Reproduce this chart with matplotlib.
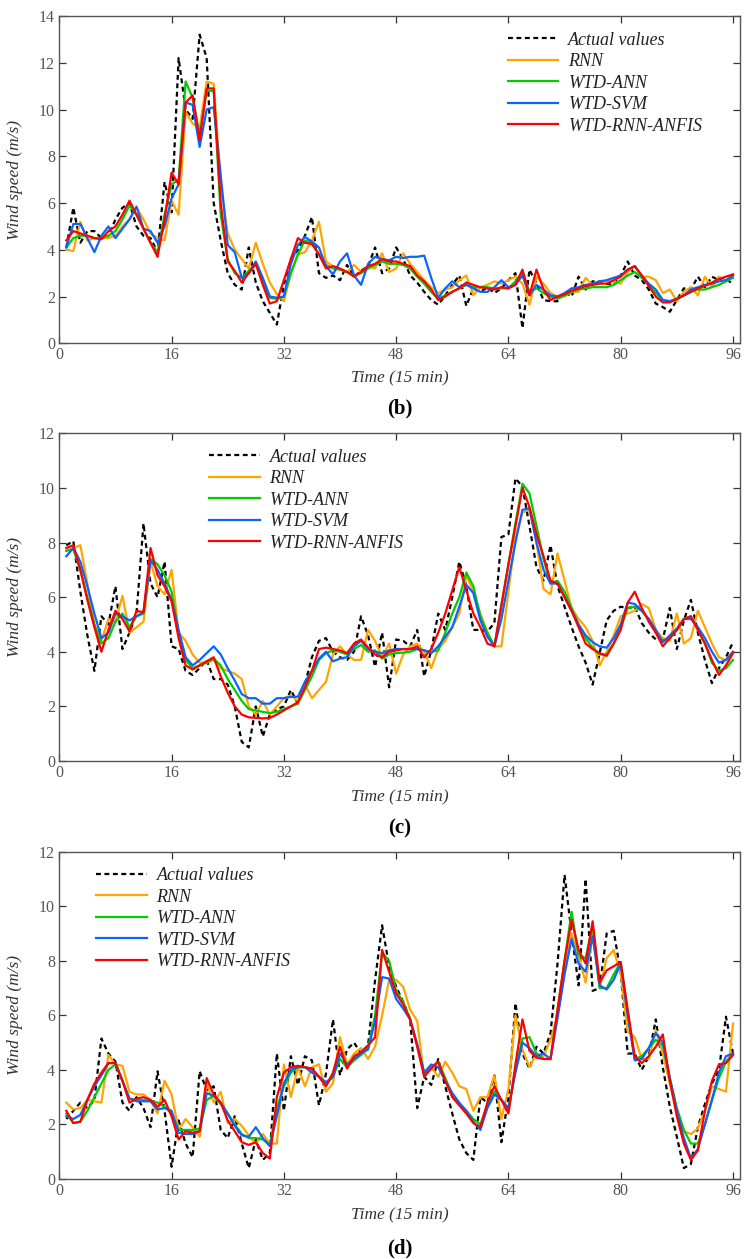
import numpy as np
import matplotlib.pyplot as plt
from matplotlib.lines import Line2D

plt.rcParams['font.family'] = ['Liberation Serif', 'DejaVu Serif']

# time steps (15 min), one day
t = np.arange(1, 97)

# ---- panel (b) ----
b_actual = [4.1, 5.8, 4.3, 4.8, 4.8, 4.5, 4.6, 5.3, 5.8, 6.0,
            5.0, 4.6, 4.5, 3.9, 6.9, 5.6, 12.2, 10.0, 9.6, 13.2,
            12.2, 6.0, 4.4, 3.0, 2.5, 2.3, 4.1, 2.6, 1.8, 1.3,
            0.8, 2.5, 3.6, 4.0, 4.6, 5.4, 3.0, 2.8, 2.9, 2.7,
            3.35, 2.85, 3.1, 3.3, 4.1, 3.0, 3.2, 4.1, 3.6, 2.9,
            2.6, 2.2, 1.85, 1.65, 2.05, 2.5, 2.9, 1.6, 2.35, 2.2,
            2.4, 2.15, 2.35, 2.7, 3.0, 0.65, 3.15, 2.55, 1.85, 1.8,
            1.8, 2.2, 2.0, 2.85, 2.3, 2.65, 2.65, 2.55, 2.5, 2.9,
            3.5, 2.9, 2.7, 2.3, 1.7, 1.55, 1.35, 1.85, 2.35, 2.3,
            2.85, 2.4, 2.85, 2.7, 2.8, 2.5]
b_rnn = [4.0, 3.95, 5.2, 4.4, 4.5, 4.5, 4.5, 4.6, 5.0, 5.3,
         5.8, 5.3, 4.7, 4.5, 4.4, 6.1, 5.5, 9.9, 9.4, 9.2,
         11.2, 11.1, 6.8, 4.7, 4.0, 3.6, 3.2, 4.3, 3.4, 2.6,
         2.1, 1.8, 3.0, 3.8, 3.9, 4.4, 5.2, 3.5, 3.3, 3.15,
         3.05, 3.35, 3.05, 3.3, 3.2, 3.85, 3.05, 3.2, 3.85, 3.4,
         3.05, 2.7, 2.4, 2.15, 2.3, 2.4, 2.7, 2.9, 2.05, 2.4,
         2.5, 2.65, 2.55, 2.7, 2.85, 2.55, 1.65, 2.85, 2.55, 2.15,
         2.0, 2.0, 2.2, 2.2, 2.8, 2.5, 2.65, 2.65, 2.65, 2.55,
         3.05, 3.3, 2.85, 2.85, 2.7, 2.15, 2.3, 1.8, 2.2, 2.4,
         2.05, 2.85, 2.4, 2.85, 2.65, 2.9]
b_ann = [4.1, 4.5, 4.6, 4.6, 4.5, 4.5, 4.6, 4.8, 5.3, 5.9,
         5.5, 4.9, 4.3, 3.9, 5.5, 6.8, 7.0, 11.2, 10.5, 8.9,
         10.8, 10.8, 5.5, 3.6, 3.0, 2.8, 3.1, 3.4, 2.6, 1.95,
         1.9, 2.0, 3.0, 3.8, 4.4, 4.3, 3.8, 3.35, 3.2, 3.15,
         3.05, 2.9, 3.0, 3.2, 3.35, 3.5, 3.4, 3.4, 3.35, 3.2,
         2.85, 2.55, 2.2, 1.9, 2.05, 2.2, 2.35, 2.5, 2.4, 2.4,
         2.4, 2.35, 2.35, 2.35, 2.65, 3.05, 2.2, 2.35, 2.15, 2.0,
         1.9, 2.05, 2.2, 2.3, 2.35, 2.4, 2.4, 2.4, 2.5, 2.7,
         2.9, 3.05, 2.8, 2.5, 2.15, 1.85, 1.8, 1.9, 2.05, 2.2,
         2.3, 2.3, 2.4, 2.5, 2.65, 2.8]
b_svm = [4.1, 5.1, 5.1, 4.5, 3.9, 4.6, 5.0, 4.5, 4.9, 5.3,
         5.85, 4.9, 4.8, 4.3, 5.0, 6.2, 6.8, 10.3, 10.2, 8.4,
         10.0, 10.1, 7.2, 4.2, 3.9, 2.8, 3.0, 3.5, 2.8, 2.0,
         1.95, 2.0, 3.4, 4.2, 4.55, 4.35, 4.1, 3.3, 2.95, 3.5,
         3.85, 2.9, 2.5, 3.4, 3.7, 3.6, 3.55, 3.7, 3.65, 3.7,
         3.7, 3.75, 2.8, 1.95, 2.35, 2.65, 2.4, 2.5, 2.35, 2.2,
         2.2, 2.4, 2.7, 2.4, 2.5, 2.9, 2.05, 2.5, 2.3, 2.05,
         2.0, 2.15, 2.35, 2.4, 2.5, 2.55, 2.65, 2.7, 2.8, 2.9,
         3.15, 3.3, 2.9, 2.55, 2.3, 1.85, 1.8, 1.9, 2.05, 2.3,
         2.4, 2.5, 2.55, 2.65, 2.7, 2.9]
b_anfis = [4.4, 4.8, 4.7, 4.6, 4.5, 4.45, 4.8, 5.0, 5.5, 6.1,
           5.5, 4.9, 4.3, 3.7, 5.3, 7.3, 6.8, 10.3, 10.6, 8.7,
           10.9, 10.9, 6.0, 3.5, 3.1, 2.6, 3.0, 3.4, 2.5, 1.7,
           1.8, 2.7, 3.6, 4.5, 4.3, 4.25, 3.8, 3.2, 3.3, 3.2,
           3.05, 2.85, 3.05, 3.3, 3.4, 3.6, 3.5, 3.5, 3.4, 3.3,
           2.9, 2.65, 2.3, 1.85, 2.0, 2.2, 2.35, 2.6, 2.5, 2.4,
           2.35, 2.3, 2.4, 2.35, 2.5, 3.15, 2.05, 3.15, 2.3, 1.85,
           2.0, 2.1, 2.25, 2.35, 2.45, 2.5, 2.55, 2.55, 2.7, 2.85,
           3.15, 3.3, 2.9, 2.45, 2.0, 1.75, 1.75, 1.9, 2.05, 2.2,
           2.35, 2.45, 2.6, 2.75, 2.85, 2.95]

# ---- panel (c) ----
c_actual = [7.9, 8.05, 6.2, 4.6, 3.3, 5.3, 5.0, 6.4, 4.1, 4.7,
            5.4, 8.7, 6.5, 6.0, 7.3, 4.2, 4.1, 3.3, 3.15, 3.4,
            3.7, 3.0, 3.0, 2.8, 2.0, 0.7, 0.5, 2.0, 0.9, 1.7,
            1.9, 2.0, 2.6, 2.1, 2.8, 3.8, 4.4, 4.5, 4.0, 3.8,
            3.7, 4.0, 5.3, 4.6, 3.45, 4.7, 2.7, 4.45, 4.4, 4.2,
            4.8, 3.1, 4.05, 5.4, 4.8, 6.0, 7.3, 6.4, 4.8, 4.8,
            4.75, 5.05, 8.2, 8.3, 10.35, 10.05, 8.6, 7.1, 6.6, 7.9,
            6.4, 5.65, 4.9, 4.2, 3.6, 2.8, 3.95, 5.15, 5.5, 5.65,
            5.6, 5.65, 5.05, 4.7, 4.45, 4.45, 5.6, 4.1, 5.15, 5.9,
            4.7, 3.7, 2.85, 3.4, 3.8, 4.35]
c_rnn = [7.7, 7.8, 7.9, 6.5, 5.0, 4.4, 5.2, 5.1, 6.05, 4.7,
         4.9, 5.1, 7.3, 6.4, 6.1, 7.0, 4.7, 4.4, 3.9, 3.6,
         3.6, 3.7, 3.4, 3.3, 3.2, 3.0, 2.0, 1.7, 2.2, 1.7,
         2.0, 2.3, 2.4, 2.2, 2.8, 2.3, 2.6, 2.9, 3.9, 4.2,
         3.9, 3.7, 3.7, 4.8, 4.4, 3.8, 4.3, 3.2, 3.9, 4.2,
         4.3, 4.0, 3.4, 4.1, 4.4, 4.9, 5.4, 6.8, 6.2, 5.4,
         4.7, 4.2, 4.2, 6.2, 8.2, 9.1, 9.2, 8.0, 6.3, 6.1,
         7.6, 6.6, 5.6, 5.2, 4.9, 4.4, 3.5, 4.0, 4.6, 5.3,
         5.4, 5.5, 5.75, 5.6, 4.8, 4.5, 4.4, 5.4, 4.3, 4.5,
         5.5, 4.9, 4.3, 3.8, 3.7, 4.0]
c_ann = [7.7, 7.75, 7.0, 6.0, 5.0, 4.3, 4.5, 5.1, 5.4, 4.9,
         5.3, 5.4, 7.4, 7.2, 6.8, 6.2, 4.7, 3.7, 3.4, 3.5,
         3.6, 3.75, 3.5, 3.0, 2.6, 2.2, 1.9, 1.85, 1.8, 1.75,
         1.8, 1.9, 2.0, 2.1, 2.6, 3.1, 3.7, 3.95, 4.05, 4.0,
         3.9, 4.1, 4.25, 4.0, 4.05, 3.75, 3.9, 3.95, 3.97, 4.0,
         4.1, 4.05, 4.0, 4.05, 4.7, 5.4, 6.0, 6.9, 6.4, 5.3,
         4.7, 4.2, 5.7, 7.2, 8.7, 10.15, 9.8, 8.6, 7.4, 6.5,
         6.6, 6.2, 5.6, 5.0, 4.5, 4.15, 3.9, 3.9, 4.3, 4.9,
         5.6, 5.65, 5.5, 5.2, 4.7, 4.4, 4.5, 4.8, 5.2, 5.3,
         4.8, 4.3, 3.6, 3.3, 3.4, 3.7]
c_svm = [7.5, 7.8, 7.3, 6.4, 5.4, 4.5, 4.7, 5.4, 5.3, 5.15,
         5.3, 5.45, 7.35, 7.0, 6.5, 5.9, 4.8, 3.8, 3.5, 3.7,
         3.95, 4.2, 3.9, 3.4, 2.95, 2.45, 2.3, 2.3, 2.1, 2.1,
         2.3, 2.3, 2.35, 2.35, 2.9, 3.3, 3.75, 4.0, 3.65, 3.75,
         3.8, 4.2, 4.4, 4.1, 4.0, 3.95, 4.05, 4.1, 4.1, 4.1,
         4.1, 4.05, 3.95, 4.2, 4.55, 4.9, 5.65, 6.45, 6.15, 5.15,
         4.55, 4.2, 5.2, 6.6, 8.0, 9.2, 9.25, 8.0, 7.0, 6.5,
         6.5, 6.0, 5.5, 5.0, 4.6, 4.35, 4.2, 4.15, 4.5, 5.0,
         5.8, 5.75, 5.5, 5.2, 4.8, 4.35, 4.6, 4.85, 5.2, 5.2,
         4.9, 4.5, 4.0, 3.6, 3.7, 4.0]
c_anfis = [7.8, 7.9, 7.0, 5.9, 4.9, 4.0, 4.8, 5.5, 5.2, 4.75,
           5.5, 5.45, 7.8, 6.8, 6.4, 5.85, 4.5, 3.5, 3.35, 3.5,
           3.65, 3.8, 3.1, 2.5, 2.0, 1.7, 1.6, 1.58, 1.56, 1.58,
           1.7, 1.85, 2.0, 2.15, 2.7, 3.3, 4.1, 4.15, 4.1, 4.05,
           3.95, 4.3, 4.45, 4.15, 3.9, 3.8, 4.0, 4.05, 4.1, 4.1,
           4.2, 3.8, 4.1, 4.7, 5.4, 6.25, 7.1, 6.25, 5.4, 4.9,
           4.3, 4.2, 5.7, 7.2, 8.6, 10.0, 9.3, 8.3, 7.5, 6.6,
           6.5, 6.0, 5.5, 4.9, 4.3, 4.1, 3.95, 3.85, 4.3, 4.8,
           5.8, 6.2, 5.6, 5.1, 4.7, 4.2, 4.5, 4.8, 5.2, 5.3,
           4.8, 4.3, 3.7, 3.15, 3.5, 3.95]

# ---- panel (d) ----
d_actual = [2.2, 2.5, 2.8, 2.6, 2.9, 5.15, 4.6, 4.3, 2.8, 2.5,
            3.0, 2.6, 1.9, 3.95, 2.5, 0.45, 2.15, 1.3, 0.8, 3.95,
            3.25, 3.4, 1.8, 1.5, 2.3, 1.3, 0.4, 1.45, 0.7, 0.95,
            4.6, 2.5, 4.5, 3.45, 4.5, 4.35, 2.7, 3.85, 5.85, 3.8,
            4.75, 5.0, 4.6, 4.9, 7.3, 9.3, 7.8, 7.05, 6.5, 5.85,
            2.6, 3.75, 3.45, 4.4, 3.4, 2.4, 1.45, 0.95, 0.7, 3.0,
            2.8, 3.8, 1.35, 3.0, 6.45, 4.6, 4.05, 4.85, 4.6, 5.35,
            7.9, 11.15, 9.0, 7.1, 11.0, 6.9, 7.0, 9.0, 9.1, 7.55,
            4.6, 4.6, 4.0, 4.5, 5.85, 4.1, 2.65, 1.55, 0.4, 0.55,
            1.9, 2.75, 3.5, 4.0, 5.95, 4.6]
d_rnn = [2.8, 2.55, 2.6, 2.9, 2.85, 2.8, 4.55, 4.2, 4.15, 3.2,
         3.1, 3.1, 2.9, 2.4, 3.6, 3.1, 1.8, 2.2, 1.9, 1.55,
         3.5, 2.8, 3.2, 2.05, 2.2, 1.95, 1.6, 1.3, 1.65, 1.3,
         1.3, 4.2, 3.0, 4.1, 3.4, 4.1, 4.2, 3.2, 3.5, 5.2,
         4.2, 4.6, 4.8, 4.4, 4.85, 6.0, 7.3, 7.3, 7.05, 6.2,
         5.8, 3.75, 4.1, 3.75, 4.3, 3.9, 3.4, 3.3, 2.5, 3.0,
         3.0, 3.8, 2.2, 3.3, 6.0, 4.75, 4.1, 4.6, 4.5, 5.1,
         6.0, 7.6, 9.0, 8.2, 7.2, 9.0, 7.0, 8.1, 8.4, 7.5,
         5.4, 5.2, 4.4, 4.4, 5.45, 4.6, 3.5, 2.5, 1.75, 1.65,
         1.85, 2.5, 3.4, 3.3, 3.2, 5.7]
d_ann = [2.4, 2.05, 2.1, 2.5, 3.0, 3.5, 4.0, 4.2, 3.6, 2.95,
         2.9, 2.9, 2.85, 2.8, 2.65, 2.4, 1.8, 1.8, 1.8, 1.85,
         2.9, 3.05, 2.75, 2.4, 2.0, 1.65, 1.5, 1.5, 1.45, 1.25,
         2.6, 3.4, 3.9, 4.1, 4.1, 4.0, 3.75, 3.45, 3.75, 4.4,
         4.1, 4.35, 4.55, 4.8, 6.0, 8.3, 8.0, 6.9, 6.5, 5.85,
         4.9, 3.85, 4.1, 4.3, 3.7, 3.1, 2.75, 2.5, 2.2, 2.0,
         2.7, 3.2, 2.9, 2.5, 4.0, 5.15, 5.2, 4.6, 4.4, 4.4,
         6.2, 8.0, 9.8, 8.2, 8.1, 9.3, 7.0, 7.0, 7.5, 7.95,
         6.1, 4.4, 4.5, 4.8, 5.1, 4.9, 3.7, 2.6, 1.8, 1.3,
         1.3, 2.0, 2.9, 3.7, 4.3, 4.6]
d_svm = [2.3, 2.2, 2.35, 2.9, 3.4, 3.8, 4.25, 4.25, 3.6, 2.95,
         2.85, 2.85, 2.85, 2.55, 2.6, 2.5, 1.7, 1.65, 1.65, 1.75,
         3.15, 3.05, 2.8, 2.4, 1.95, 1.6, 1.55, 1.9, 1.5, 1.2,
         2.3, 3.5, 4.0, 4.1, 4.1, 3.9, 3.75, 3.55, 3.75, 4.6,
         4.2, 4.4, 4.6, 4.75, 5.8, 7.4, 7.35, 6.6, 6.25, 5.85,
         4.95, 3.9, 4.2, 4.1, 3.6, 3.15, 2.8, 2.5, 2.1, 1.8,
         2.6, 3.1, 2.9, 2.6, 3.9, 5.0, 4.8, 4.5, 4.6, 4.4,
         5.9, 7.5, 8.8, 7.9, 7.6, 8.9, 7.1, 6.95, 7.3, 7.9,
         6.0, 4.35, 4.4, 4.8, 5.35, 5.0, 3.7, 2.5, 1.5, 0.75,
         1.1, 2.0, 2.9, 3.9, 4.5, 4.6]
d_anfis = [2.5, 2.05, 2.1, 2.9, 3.5, 3.9, 4.25, 4.25, 3.6, 2.8,
           2.95, 3.0, 2.9, 2.65, 2.9, 2.3, 1.45, 1.75, 1.7, 1.75,
           3.7, 3.1, 2.8, 2.15, 1.75, 1.35, 1.25, 1.35, 0.95, 0.75,
           3.0, 3.9, 4.1, 4.15, 4.1, 4.05, 3.75, 3.4, 3.9, 4.85,
           4.05, 4.5, 4.65, 4.9, 5.2, 8.4, 7.6, 6.8, 6.4, 5.85,
           4.85, 3.75, 4.05, 4.3, 3.6, 3.0, 2.7, 2.4, 2.05, 1.9,
           2.8, 3.4, 2.9, 2.4, 4.2, 5.85, 4.7, 4.45, 4.4, 4.4,
           6.2, 8.0, 9.5, 8.4, 7.9, 9.45, 7.2, 7.65, 7.8, 7.95,
           6.2, 4.5, 4.25, 4.5, 4.85, 5.3, 3.6, 2.3, 1.3, 0.7,
           1.05, 2.5, 3.6, 4.2, 4.25, 4.55]

names = ['Actual values', 'RNN', 'WTD-ANN', 'WTD-SVM', 'WTD-RNN-ANFIS']
colors = ['black', '#ffa500', '#00cc00', '#0a64ff', '#ff0000']

panels = [
    ('(b)', [b_actual, b_rnn, b_ann, b_svm, b_anfis], 14, (0.659, 0.952)),
    ('(c)', [c_actual, c_rnn, c_ann, c_svm, c_anfis], 12, (0.220, 0.953)),
    ('(d)', [d_actual, d_rnn, d_ann, d_svm, d_anfis], 12, (0.054, 0.953)),
]

W, H = 746, 1259
fig = plt.figure(figsize=(W / 100, H / 100), dpi=100)

# axes boxes in pixels: (top, bottom)
boxes = [(16, 343.3), (433.3, 761), (851.7, 1179)]
xlab_y = [378, 797, 1215]
tag_y = [408, 828, 1248]
left, right = 59.3, 740

gray = '#555555'
for (tag, series, ymax, leg_xy), (top, bot), yl, yt in zip(panels, boxes, xlab_y, tag_y):
    ax = fig.add_axes([left / W, 1 - bot / H, (right - left) / W, (bot - top) / H])
    for k, (vals, c) in enumerate(zip(series, colors)):
        if k == 0:
            ax.plot(t, vals, color=c, lw=1.6, ls=(0, (2.2, 1.6)), label=names[k], zorder=2)
        else:
            ax.plot(t, vals, color=c, lw=1.6, label=names[k], zorder=2 + k)
    ax.set_xlim(0, 97)
    ax.set_ylim(0, ymax)
    ax.set_xticks(np.arange(0, 97, 16))
    ax.set_yticks(np.arange(0, ymax + 1, 2))
    ax.tick_params(direction='in', top=True, right=True, length=5, width=0.9,
                   colors='#333333', labelcolor=gray, labelsize=11.5, pad=3)
    for s in ax.spines.values():
        s.set_color('#555555')
        s.set_linewidth(1.0)
    ax.set_ylabel('Wind speed (m/s)', style='italic', fontsize=12.5, color='#333333')
    ax.yaxis.set_label_coords(-0.054, 0.5)
    leg = ax.legend(loc='upper left', bbox_to_anchor=leg_xy, frameon=False,
                    prop={'style': 'italic', 'size': 13}, handlelength=2.8,
                    handletextpad=0.55, labelspacing=0.25, borderpad=0, borderaxespad=0)
    for txt in leg.get_texts():
        txt.set_color('#222222')
    cx = (left + right) / 2 / W
    fig.text(cx, 1 - yl / H, 'Time (15 min)', ha='center', va='center',
             style='italic', fontsize=12.5, color='#333333')
    fig.text(cx, 1 - yt / H, tag, ha='center', va='center',
             fontweight='bold', fontsize=15, color='black')

fig.savefig('out.png', dpi=100)
